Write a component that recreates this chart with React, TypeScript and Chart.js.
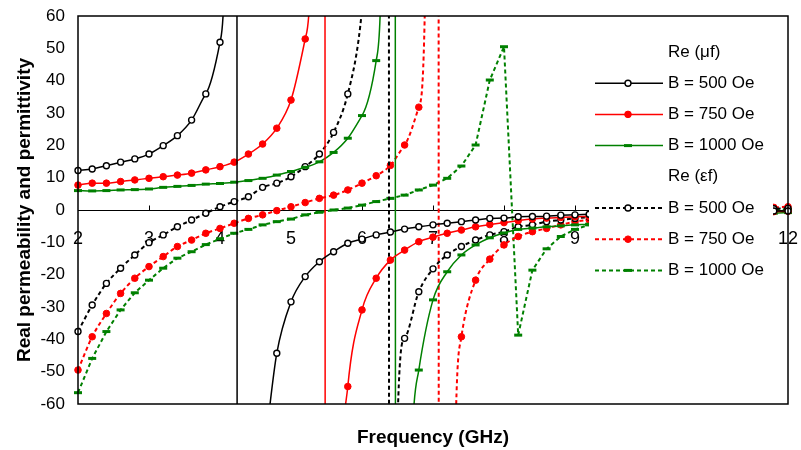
import React, { useEffect, useRef } from 'react';
import { Chart, registerables } from 'chart.js';

Chart.register(...registerables);

// ---------------- data ----------------
const legendHeaders = ['Re (\u03bcf)', 'Re (\u03b5f)'];
const seriesLabels = ['B = 500 Oe', 'B = 750 Oe', 'B = 1000 Oe', 'B = 500 Oe', 'B = 750 Oe', 'B = 1000 Oe'];
const xTickValues = [2, 3, 4, 5, 6, 7, 8, 9, 10, 11, 12];
const yTickValues = [-60, -50, -40, -30, -20, -10, 0, 10, 20, 30, 40, 50, 60];

// Re(mu) B = 500 Oe
const muB500Freq = [2.0, 2.2, 2.4, 2.6, 2.8, 3.0, 3.2, 3.4, 3.6, 3.8, 4.0, 4.1, 4.22, 4.26, 4.4, 4.6, 4.8, 5.0, 5.2, 5.4, 5.6, 5.8, 6.0, 6.2, 6.4, 6.6, 6.8, 7.0, 7.2, 7.4, 7.6, 7.8, 8.0, 8.2, 8.4, 8.6, 8.8, 9.0, 9.2, 9.6, 10.0, 10.4, 10.8, 11.2, 11.6, 11.8, 12.0];
const muB500Val = [12.2, 12.7, 13.7, 14.8, 15.8, 17.3, 19.9, 23.0, 27.8, 35.9, 51.9, 130, 1200, -1200, -180, -78, -44.3, -28.4, -20.6, -16.0, -12.9, -10.3, -9.0, -7.7, -6.8, -5.9, -5.2, -4.6, -4.1, -3.6, -3.1, -2.6, -2.5, -2.1, -2.0, -1.9, -1.6, -1.5, -1.3, -1.1, -0.9, -0.8, -0.6, -0.5, -0.4, -0.3, -0.3];

// Re(mu) B = 750 Oe
const muB750Freq = [2.0, 2.2, 2.4, 2.6, 2.8, 3.0, 3.2, 3.4, 3.6, 3.8, 4.0, 4.2, 4.4, 4.6, 4.8, 5.0, 5.2, 5.3, 5.46, 5.5, 5.65, 5.8, 6.0, 6.2, 6.4, 6.6, 6.8, 7.0, 7.2, 7.4, 7.6, 7.8, 8.0, 8.2, 8.4, 8.6, 8.8, 9.0, 9.2, 9.6, 10.0, 10.4, 10.8, 11.2, 11.6, 11.8, 12.0];
const muB750Val = [7.7, 8.3, 8.3, 8.8, 9.3, 9.8, 10.3, 10.8, 11.4, 12.4, 13.4, 14.8, 17.3, 20.4, 25.3, 34.0, 52.9, 100, 1200, -1200, -160, -54.6, -30.9, -21.1, -15.5, -12.4, -9.8, -8.4, -7.2, -6.2, -5.2, -4.5, -3.9, -3.3, -2.8, -2.5, -2.3, -2.1, -2.0, -1.7, -1.4, -1.2, -1.0, -0.8, -0.6, -0.5, -0.4];

// Re(mu) B = 1000 Oe
const muB1000Freq = [2.0, 2.2, 2.4, 2.6, 2.8, 3.0, 3.2, 3.4, 3.6, 3.8, 4.0, 4.2, 4.4, 4.6, 4.8, 5.0, 5.2, 5.4, 5.6, 5.8, 6.0, 6.2, 6.3, 6.45, 6.49, 6.65, 6.8, 7.0, 7.2, 7.4, 7.6, 7.8, 8.0, 8.2, 8.4, 8.6, 8.8, 9.0, 9.2, 9.6, 10.0, 10.4, 10.8, 11.2, 11.6, 11.8, 12.0];
const muB1000Val = [6.0, 5.9, 6.0, 6.2, 6.3, 6.5, 7.0, 7.3, 7.6, 8.0, 8.2, 8.6, 9.1, 9.8, 10.8, 11.9, 13.2, 14.9, 17.8, 22.2, 29.2, 46.2, 120, 1200, -1200, -130, -49.5, -27.8, -19.1, -13.9, -10.8, -8.6, -7.1, -6.0, -5.6, -5.2, -4.9, -4.6, -4.4, -3.7, -3.1, -2.6, -2.2, -1.7, -1.3, -1.0, -0.8];

// Re(eps) B = 500 Oe
const epsB500Freq = [2.0, 2.2, 2.4, 2.6, 2.8, 3.0, 3.2, 3.4, 3.6, 3.8, 4.0, 4.2, 4.4, 4.6, 4.8, 5.0, 5.2, 5.4, 5.6, 5.8, 6.0, 6.2, 6.36, 6.4, 6.5, 6.6, 6.8, 7.0, 7.2, 7.4, 7.6, 7.8, 8.0, 8.2, 8.4, 8.6, 8.8, 9.0, 9.2, 9.6, 10.0, 10.4, 10.8, 11.2, 11.6, 11.8, 12.0];
const epsB500Val = [-37.6, -29.4, -22.7, -18.0, -13.9, -10.1, -7.7, -5.2, -3.1, -1.0, 1.0, 2.6, 4.1, 7.0, 8.3, 10.3, 13.4, 17.3, 24.0, 35.9, 62, 200, 1200, -1200, -66, -39.7, -25.3, -18.2, -13.9, -11.3, -9.3, -7.7, -6.7, -5.2, -4.6, -3.6, -3.1, -2.6, -2.2, -1.6, -1.1, -0.7, -0.3, 0.0, 0.3, 0.4, 0.5];

// Re(eps) B = 750 Oe
const epsB750Freq = [2.0, 2.2, 2.4, 2.6, 2.8, 3.0, 3.2, 3.4, 3.6, 3.8, 4.0, 4.2, 4.4, 4.6, 4.8, 5.0, 5.2, 5.4, 5.6, 5.8, 6.0, 6.2, 6.4, 6.6, 6.8, 6.9, 7.06, 7.1, 7.3, 7.4, 7.6, 7.8, 8.0, 8.2, 8.4, 8.6, 8.8, 9.0, 9.2, 9.6, 10.0, 10.4, 10.8, 11.2, 11.6, 11.8, 12.0];
const epsB750Val = [-49.5, -39.2, -32.0, -25.8, -21.1, -17.5, -14.4, -11.3, -9.3, -7.2, -5.7, -4.1, -2.6, -1.5, -0.2, 1.0, 2.3, 3.6, 4.6, 6.2, 8.3, 10.6, 13.8, 20.1, 31.8, 80, 1200, -1200, -90, -39.2, -21.7, -15.2, -10.8, -8.2, -6.7, -5.7, -4.6, -3.6, -3.1, -2.3, -1.6, -1.0, -0.4, 0.1, 0.6, 0.8, 1.0];

// Re(eps) B = 1000 Oe
const epsB1000Freq = [2.0, 2.2, 2.4, 2.6, 2.8, 3.0, 3.2, 3.4, 3.6, 3.8, 4.0, 4.2, 4.4, 4.6, 4.8, 5.0, 5.2, 5.4, 5.6, 5.8, 6.0, 6.2, 6.4, 6.6, 6.8, 7.0, 7.2, 7.4, 7.6, 7.8, 8.0, 8.2, 8.4, 8.6, 8.8, 9.0, 9.2, 9.6, 10.0, 10.4, 10.8, 11.2, 11.6, 11.8, 12.0];
const epsB1000Val = [-56.5, -45.9, -37.6, -30.9, -25.6, -21.7, -18.0, -14.9, -12.9, -10.7, -8.9, -7.2, -6.0, -4.6, -3.6, -2.8, -1.5, -0.7, 0.0, 0.6, 1.5, 2.6, 3.6, 4.6, 6.2, 7.7, 9.8, 13.6, 20.1, 40.2, 50.5, -38.7, -18.6, -12.0, -8.2, -6.0, -4.6, -3.2, -2.3, -1.6, -1.0, -0.5, -0.1, 0.1, 0.2];

// ---------------- styling ----------------
const FONT = "'Liberation Sans', Arial, Helvetica, sans-serif";
const BLACK = '#000000';
const RED = '#ff0000';
const GREEN = '#008000';
const DOT_DASH = [4, 3];

const pts = (f: number[], v: number[]) => f.map((x, i) => ({ x, y: v[i] }));

function styleFor(color: string, kind: 'open' | 'filled' | 'dash', dotted: boolean, smooth: boolean) {
  const base: any = {
    borderColor: color,
    borderWidth: dotted ? 2 : 1.5,
    borderDash: dotted ? DOT_DASH : [],
    cubicInterpolationMode: smooth ? 'monotone' : 'default',
    tension: 0,
    fill: false,
    clip: { left: 6, top: 0, right: 10, bottom: 0 },
  };
  if (kind === 'open') {
    base.pointStyle = 'circle';
    base.pointRadius = 3;
    base.pointBorderWidth = 1.4;
    base.pointBackgroundColor = '#ffffff';
    base.pointBorderColor = color;
  } else if (kind === 'filled') {
    base.pointStyle = 'circle';
    base.pointRadius = 3.3;
    base.pointBorderWidth = 1;
    base.pointBackgroundColor = color;
    base.pointBorderColor = color;
  } else {
    base.pointStyle = 'line';
    base.pointRadius = 4;
    base.pointBorderWidth = 3;
    base.pointBackgroundColor = color;
    base.pointBorderColor = color;
  }
  return base;
}

// legend geometry
const LEG_BOX = { x: 589, y: 30, w: 184, h: 262 };
const LEG_ROW0 = 52;
const LEG_ROW_STEP = 31.2;
const LEG_LINE_X1 = 595;
const LEG_LINE_X2 = 663;
const LEG_MARK_X = 628;
const LEG_TEXT_X = 668;
const TEXT_SIZE = 17;

function drawMarker(ctx: CanvasRenderingContext2D, ds: any, x: number, y: number) {
  ctx.save();
  ctx.setLineDash([]);
  if (ds.pointStyle === 'line') {
    ctx.strokeStyle = ds.pointBorderColor;
    ctx.lineWidth = ds.pointBorderWidth;
    ctx.beginPath();
    ctx.moveTo(x - ds.pointRadius, y);
    ctx.lineTo(x + ds.pointRadius, y);
    ctx.stroke();
  } else {
    ctx.beginPath();
    ctx.arc(x, y, ds.pointRadius, 0, Math.PI * 2);
    ctx.fillStyle = ds.pointBackgroundColor;
    ctx.fill();
    ctx.lineWidth = ds.pointBorderWidth;
    ctx.strokeStyle = ds.pointBorderColor;
    ctx.stroke();
  }
  ctx.restore();
}

const zeroTicksPlugin = {
  id: 'zeroTicks',
  beforeDatasetsDraw(chart: any) {
    const ctx = chart.ctx;
    const xs = chart.scales.x;
    const ys = chart.scales.y;
    const y0 = Math.round(ys.getPixelForValue(0)) + 0.5;
    ctx.save();
    ctx.strokeStyle = BLACK;
    ctx.lineWidth = 1;
    xTickValues.forEach((v) => {
      if (v === xs.min || v === xs.max) return;
      const px = Math.round(xs.getPixelForValue(v)) + 0.5;
      ctx.beginPath();
      ctx.moveTo(px, y0);
      ctx.lineTo(px, y0 - 5);
      ctx.stroke();
    });
    ctx.restore();
  },
};

const legendFramePlugin = {
  id: 'legendFrame',
  afterDatasetsDraw(chart: any) {
    const ctx = chart.ctx;
    const ca = chart.chartArea;
    const dsets = chart.data.datasets;
    ctx.save();
    ctx.fillStyle = '#ffffff';
    ctx.fillRect(LEG_BOX.x, LEG_BOX.y, LEG_BOX.w, LEG_BOX.h);
    ctx.font = `${TEXT_SIZE}px ${FONT}`;
    ctx.textBaseline = 'middle';
    ctx.textAlign = 'left';
    let row = 0;
    for (let g = 0; g < 2; g++) {
      const yH = LEG_ROW0 + row * LEG_ROW_STEP;
      ctx.fillStyle = BLACK;
      ctx.fillText(legendHeaders[g], LEG_TEXT_X, yH);
      row++;
      for (let k = 0; k < 3; k++) {
        const ds = dsets[g * 3 + k];
        const y = LEG_ROW0 + row * LEG_ROW_STEP;
        ctx.save();
        ctx.strokeStyle = ds.borderColor;
        ctx.lineWidth = ds.borderWidth;
        ctx.setLineDash(ds.borderDash || []);
        ctx.beginPath();
        ctx.moveTo(LEG_LINE_X1, y);
        ctx.lineTo(LEG_LINE_X2, y);
        ctx.stroke();
        ctx.restore();
        drawMarker(ctx, ds, LEG_MARK_X, y);
        ctx.fillStyle = BLACK;
        ctx.fillText(ds.label, LEG_TEXT_X, y);
        row++;
      }
    }
    // plot frame
    ctx.strokeStyle = BLACK;
    ctx.lineWidth = 1.5;
    ctx.setLineDash([]);
    ctx.strokeRect(ca.left, ca.top, ca.right - ca.left, ca.bottom - ca.top);
    ctx.restore();
  },
};

const noPadH = (s: any) => { s.paddingLeft = 0; s.paddingRight = 0; };

export default function App() {
  const canvasRef = useRef<HTMLCanvasElement | null>(null);

  useEffect(() => {
    if (!canvasRef.current) return;
    Chart.defaults.font.family = FONT;
    Chart.defaults.color = BLACK;

    const datasets = [
      { label: seriesLabels[0], data: pts(muB500Freq, muB500Val), ...styleFor(BLACK, 'open', false, true) },
      { label: seriesLabels[1], data: pts(muB750Freq, muB750Val), ...styleFor(RED, 'filled', false, true) },
      { label: seriesLabels[2], data: pts(muB1000Freq, muB1000Val), ...styleFor(GREEN, 'dash', false, true) },
      { label: seriesLabels[3], data: pts(epsB500Freq, epsB500Val), ...styleFor(BLACK, 'open', true, true) },
      { label: seriesLabels[4], data: pts(epsB750Freq, epsB750Val), ...styleFor(RED, 'filled', true, true) },
      { label: seriesLabels[5], data: pts(epsB1000Freq, epsB1000Val), ...styleFor(GREEN, 'dash', true, false) },
    ];

    const chart = new Chart(canvasRef.current, {
      type: 'line',
      data: { datasets },
      plugins: [zeroTicksPlugin, legendFramePlugin],
      options: {
        responsive: false,
        maintainAspectRatio: false,
        devicePixelRatio: 1,
        animation: false,
        events: [],
        layout: { padding: { left: 0, top: 16, right: 13, bottom: 0 } },
        plugins: {
          legend: { display: false },
          tooltip: { enabled: false },
        },
        scales: {
          x: {
            type: 'linear',
            position: 'bottom',
            min: xTickValues[0],
            max: xTickValues[xTickValues.length - 1],
            ticks: { display: false },
            grid: { display: false, drawTicks: false },
            border: { display: false },
            title: {
              display: true,
              text: 'Frequency (GHz)',
              font: { size: 19, weight: 'bold', family: FONT },
              color: BLACK,
              padding: { top: 0, bottom: 1 },
            },
            afterFit: (s: any) => { s.height = 46; noPadH(s); },
          },
          x2: {
            type: 'linear',
            position: { y: 0 },
            min: xTickValues[0],
            max: xTickValues[xTickValues.length - 1],
            afterBuildTicks: (s: any) => { s.ticks = xTickValues.map((v) => ({ value: v })); },
            ticks: {
              autoSkip: false,
              maxRotation: 0,
              padding: 18,
              font: { size: 18, family: FONT },
              color: BLACK,
            },
            grid: { display: false, drawTicks: false },
            border: { display: true, color: BLACK, width: 1 },
            afterFit: (s: any) => { noPadH(s); },
          },
          y: {
            type: 'linear',
            position: 'left',
            min: yTickValues[0],
            max: yTickValues[yTickValues.length - 1],
            afterBuildTicks: (s: any) => { s.ticks = yTickValues.map((v) => ({ value: v })); },
            ticks: {
              padding: 13,
              font: { size: 17, family: FONT },
              color: BLACK,
            },
            grid: { display: false, drawTicks: false },
            border: { display: false },
            title: {
              display: true,
              text: 'Real permeability and permittivity',
              font: { size: 19, weight: 'bold', family: FONT },
              color: BLACK,
              padding: { top: 13, bottom: 0 },
            },
            afterFit: (s: any) => { s.width = 78; s.paddingTop = 0; s.paddingBottom = 0; },
          },
        },
      } as any,
    });
    return () => chart.destroy();
  }, []);

  return (
    <div style={{ position: 'absolute', left: 0, top: 0, width: 801, height: 450, background: '#fff' }}>
      <canvas ref={canvasRef} width={801} height={450} style={{ display: 'block' }} />
    </div>
  );
}
